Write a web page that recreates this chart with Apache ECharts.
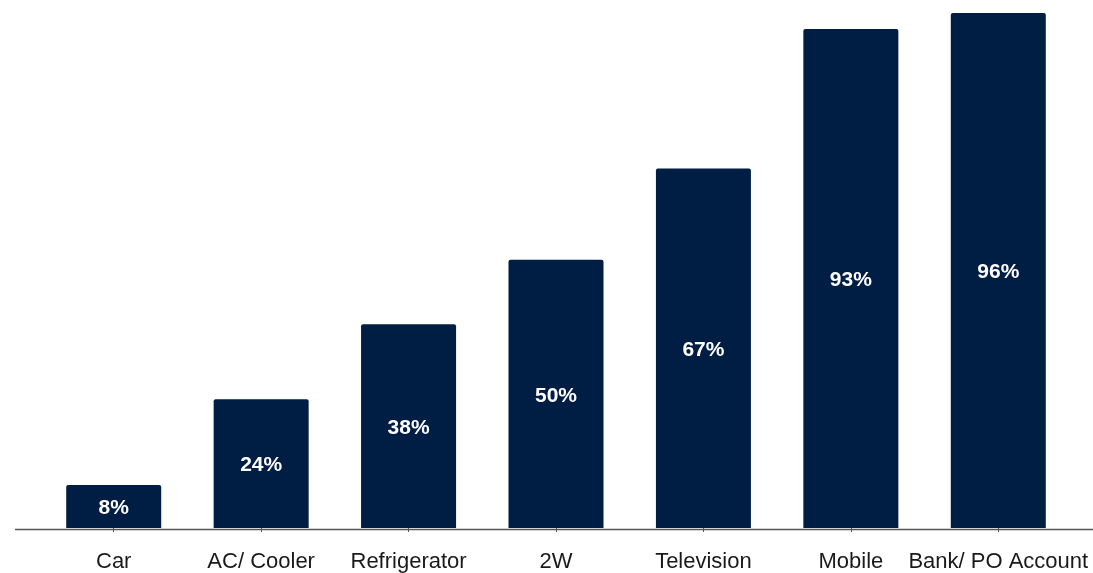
<!DOCTYPE html>
<html>
<head>
<meta charset="utf-8">
<script src="https://cdn.jsdelivr.net/npm/echarts@6/dist/echarts.min.js"></script>
<style>
  html, body { margin: 0; padding: 0; background: #ffffff; }
  #chart { width: 1093px; height: 573px; }
</style>
</head>
<body>
<div id="chart"></div>
<script>
// Share of households owning each asset (%)
const categories = ['Car', 'AC/ Cooler', 'Refrigerator', '2W', 'Television', 'Mobile', 'Bank/ PO Account'];
const ownership = [8, 24, 38, 50, 67, 93, 96];

const chart = echarts.init(document.getElementById('chart'));
const BAR = '#001d44';

chart.setOption({
  animation: false,
  backgroundColor: '#ffffff',
  grid: { left: 40, right: 21, top: 13, bottom: 44, containLabel: false },
  xAxis: {
    type: 'category',
    data: categories,
    axisLine: { show: false },
    axisTick: { show: true, alignWithLabel: true, length: 4, lineStyle: { color: '#555555', width: 1 } },
    axisLabel: {
      color: '#1a1a1a',
      fontFamily: 'Liberation Sans, Arial, sans-serif',
      fontSize: 22,
      margin: 23,
      interval: 0
    }
  },
  yAxis: {
    type: 'value',
    min: 0,
    max: 96,
    show: false,
    splitLine: { show: false }
  },
  series: [{
    type: 'bar',
    data: ownership,
    barWidth: 95,
    itemStyle: { color: BAR, borderRadius: [2, 2, 0, 0] },
    label: {
      show: true,
      position: 'inside',
      offset: [0, 2],
      formatter: p => p.value + '%',
      color: '#ffffff',
      fontFamily: 'Liberation Sans, Arial, sans-serif',
      fontWeight: 'bold',
      fontSize: 21
    }
  }],
  graphic: [{
    type: 'line',
    z: 10,
    shape: { x1: 15, y1: 529.5, x2: 1093, y2: 529.5 },
    style: { stroke: '#555555', lineWidth: 1.5 }
  }]
});
</script>
</body>
</html>
